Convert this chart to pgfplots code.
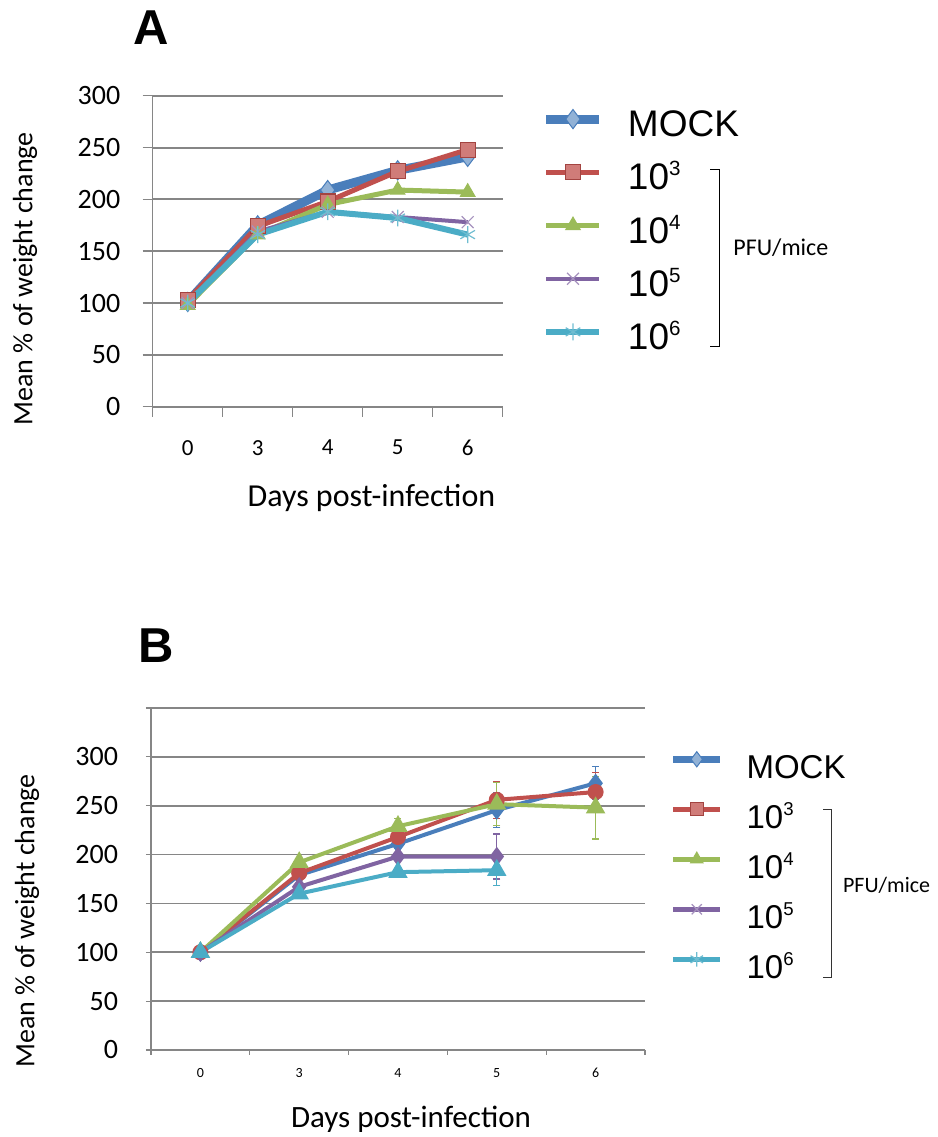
\documentclass[border=0pt]{standalone}
\usepackage{fontspec}
\setmainfont{Carlito}
\newfontfamily\arial{Liberation Sans}
\usepackage{pgfplots}
\pgfplotsset{compat=1.18}
\usepackage{pgfplotstable}
\definecolor{cblue}{RGB}{74,126,187}
\definecolor{cred}{RGB}{192,80,77}
\definecolor{cgreen}{RGB}{155,187,89}
\definecolor{cpurple}{RGB}{128,100,162}
\definecolor{ccyan}{RGB}{75,172,198}
\definecolor{axgray}{RGB}{134,134,134}
\newcommand{\supA}[1]{\raisebox{7pt}{\fontsize{10.3pt}{10.3pt}\selectfont #1}}
\newcommand{\supB}[1]{\raisebox{6.3pt}{\fontsize{9.3pt}{9.3pt}\selectfont #1}}

\pgfplotstableread{
x mock r3 r4 r5 r6
0 101 103 98 100 100
1 175 174 166 169 166
2 209 198 195 188 188
3 228 227 209 183 182
4 241 248 207 178 166
}\dataA

\pgfplotstableread{
x mock emock r3 er3 r4 er4
0 100 0 100 0 100 0
1 179 3 181 4 192 3
2 211 5 218 7 229 8
3 245.5 18 256 19 251.6 22
4 273 17 264 20 248 32
}\dataB

\pgfplotstableread{
x r5 er5 r6 er6
0 100 0 100 0
1 167 3 160 3
2 198 4 182 4
3 198 23 184 16
}\dataBB

\begin{document}
\begin{tikzpicture}[x=1pt,y=1pt]
\path[use as bounding box] (0,0) rectangle (469,568.5);

% ---------------- Panel A ----------------
\begin{axis}[
  at={(76.35pt,365.15pt)}, anchor=south west,
  scale only axis, width=175pt, height=155.5pt,
  xmin=-0.5, xmax=4.5, ymin=0, ymax=300,
  axis x line*=bottom, axis y line*=left,
  axis line style={draw=axgray, line width=0.75pt},
  tick align=outside,
  major tick length=5pt,
  tick style={draw=axgray, line width=0.75pt},
  ytick={0,50,...,300},
  yticklabels={0,50,100,150,200,250,300},
  yticklabel style={font=\fontsize{14}{14}\selectfont, anchor=east, inner sep=0pt, xshift=-11pt},
  xtick={-0.5,0.5,...,4.5},
  xticklabels={},
  extra x ticks={0,1,2,3,4},
  extra x tick labels={0,3,4,5,6},
  extra x tick style={major tick length=0pt, xticklabel style={font=\fontsize{11.5}{11.5}\selectfont, anchor=north, inner sep=0pt, yshift=-16.5pt}},
  ymajorgrids,
  grid style={draw=axgray, line width=1pt},
  xlabel={Days post-infection},
  xlabel style={font=\fontsize{16}{16}\selectfont, at={(axis description cs:0.625,-0.3215)}, anchor=base},
  ylabel={Mean \% of weight change},
  ylabel style={font=\fontsize{14}{14}\selectfont, at={(axis description cs:-0.3649,0.4106)}, anchor=center, rotate=0},
  legend style={at={(axis description cs:1.1123,1.0103)}, anchor=north west, draw=none, fill=none,
    inner sep=0pt, outer sep=0pt, row sep=0pt, column sep=12pt,
    font=\arial\fontsize{18.5}{18.5}\selectfont,
    cells={anchor=west},
    nodes={inner sep=0pt, text height=22.1pt, text depth=4.5pt}},
  legend cell align=left,
  legend image code/.code={\draw[mark repeat=2,mark phase=2,#1] plot coordinates {(0pt,0pt)(13.25pt,0pt)(26.5pt,0pt)};},
]
\addplot[color=cblue, line width=4.5pt, mark=diamond*, mark size=4.8pt,
  mark options={fill=cblue!60!white, draw=cblue, line width=0.5pt}]
  table[x=x,y=mock]{\dataA};
\addlegendentry{MOCK}
\addplot[color=cred, line width=2.5pt, mark=square*, mark size=3.75pt,
  mark options={fill=cred!75!white, draw=cred!85!black, line width=0.6pt}]
  table[x=x,y=r3]{\dataA};
\addlegendentry{10\supA{3}}
\addplot[color=cgreen, line width=2.5pt, mark=triangle*, mark size=4.2pt,
  mark options={fill=cgreen, draw=cgreen, line width=0.5pt}]
  table[x=x,y=r4]{\dataA};
\addlegendentry{10\supA{4}}
\addplot[color=cpurple, line width=2pt, mark=x, mark size=4.2pt,
  mark options={draw=cpurple!70!white, line width=0.6pt}]
  table[x=x,y=r5]{\dataA};
\addlegendentry{10\supA{5}}
\addplot[color=ccyan, line width=3pt, mark=asterisk, mark size=4.2pt,
  mark options={draw=ccyan!80!white, line width=0.6pt}]
  table[x=x,y=r6]{\dataA};
\addlegendentry{10\supA{6}}
\end{axis}

% ---------------- Panel B ----------------
\begin{axis}[
  at={(75.5pt,43.5pt)}, anchor=south west,
  scale only axis, width=247pt, height=171pt,
  xmin=-0.5, xmax=4.5, ymin=0, ymax=350,
  axis x line*=bottom, axis y line*=left,
  axis line style={draw=axgray, line width=0.6pt},
  tick align=outside,
  major tick length=2.5pt,
  tick style={draw=axgray, line width=0.6pt},
  ytick={0,50,...,350},
  yticklabels={0,50,100,150,200,250,300,{}},
  yticklabel style={font=\fontsize{14}{14}\selectfont, anchor=east, inner sep=0pt, xshift=-13.8pt},
  xtick={-0.5,0.5,...,4.5},
  xticklabels={},
  extra x ticks={0,1,2,3,4},
  extra x tick labels={0,3,4,5,6},
  extra x tick style={major tick length=0pt, xticklabel style={font=\fontsize{7}{7}\selectfont, anchor=north, inner sep=0pt, yshift=-9pt}},
  ymajorgrids,
  grid style={draw=axgray, line width=0.8pt},
  xlabel={Days post-infection},
  xlabel style={font=\fontsize{15.5}{15.5}\selectfont, at={(axis description cs:0.5263,-0.226)}, anchor=base},
  ylabel={Mean \% of weight change},
  ylabel style={font=\fontsize{14}{14}\selectfont, at={(axis description cs:-0.251,0.3772)}, anchor=center, rotate=0},
  legend style={at={(axis description cs:1.0506,0.9231)}, anchor=north west, draw=none, fill=none,
    inner sep=0pt, outer sep=0pt, row sep=0pt, column sep=11.5pt,
    font=\arial\fontsize{16.5}{16.5}\selectfont,
    cells={anchor=west},
    nodes={inner sep=0pt, text height=22pt, text depth=3pt}},
  legend cell align=left,
  legend image code/.code={\draw[mark repeat=2,mark phase=2,#1] plot coordinates {(0pt,0pt)(11.65pt,0pt)(23.3pt,0pt)};},
  error bars/y dir=both, error bars/y explicit,
  error bars/error bar style={line width=0.6pt, solid},
  error bars/error mark options={rotate=90, mark size=1.75pt, line width=0.6pt},
]
\addplot[forget plot, color=cblue, line width=2pt, mark=diamond*, mark size=3.2pt,
  mark options={fill=cblue, draw=cblue, solid}]
  table[x=x,y=mock,y error=emock]{\dataB};
\addplot[forget plot, color=cred, line width=2pt, mark=*, mark size=3pt,
  mark options={fill=cred, draw=cred, solid}]
  table[x=x,y=r3,y error=er3]{\dataB};
\addplot[forget plot, color=cgreen, line width=2pt, mark=triangle*, mark size=3.6pt,
  mark options={fill=cgreen, draw=cgreen, solid}]
  table[x=x,y=r4,y error=er4]{\dataB};
\addplot[forget plot, color=cpurple, line width=2pt, mark=diamond*, mark size=3.2pt,
  mark options={fill=cpurple, draw=cpurple, solid}]
  table[x=x,y=r5,y error=er5]{\dataBB};
\addplot[forget plot, color=ccyan, line width=2pt, mark=triangle*, mark size=3.6pt,
  mark options={fill=ccyan, draw=ccyan, solid}]
  table[x=x,y=r6,y error=er6]{\dataBB};
\addlegendimage{color=cblue, line width=3.5pt, mark=diamond*, mark size=3.8pt, mark options={fill=cblue!60!white, draw=cblue, line width=0.5pt}}
\addlegendentry{MOCK}
\addlegendimage{color=cred, line width=2.5pt, mark=square*, mark size=3.2pt, mark options={fill=cred!75!white, draw=cred!85!black, line width=0.5pt}}
\addlegendentry{10\supB{3}}
\addlegendimage{color=cgreen, line width=2.5pt, mark=triangle*, mark size=3.6pt, mark options={fill=cgreen, draw=cgreen, line width=0.5pt}}
\addlegendentry{10\supB{4}}
\addlegendimage{color=cpurple, line width=2.5pt, mark=x, mark size=3.6pt, mark options={draw=cpurple!70!white, line width=0.6pt}}
\addlegendentry{10\supB{5}}
\addlegendimage{color=ccyan, line width=2.5pt, mark=asterisk, mark size=3.6pt, mark options={draw=ccyan!80!white, line width=0.6pt}}
\addlegendentry{10\supB{6}}
\end{axis}

% titles
\node[font=\arial\bfseries\fontsize{24.5}{24.5}\selectfont, inner sep=0pt] at (75.75,554.75) {A};
\node[font=\arial\bfseries\fontsize{24.5}{24.5}\selectfont, inner sep=0pt] at (78,245.5) {B};

% brackets
\draw[line width=0.5pt] (355,483.5) -- (359.5,483.5) -- (359.5,395.15) -- (355,395.15);
\node[font=\fontsize{12}{12}\selectfont, anchor=west, inner sep=0pt] at (366.5,444.5) {PFU/mice};
\draw[line width=0.5pt, draw=black!80] (411.5,163.5) -- (415.85,163.5) -- (415.85,79.5) -- (411.5,79.5);
\node[font=\fontsize{11}{11}\selectfont, anchor=west, inner sep=0pt] at (421.35,126) {PFU/mice};
\end{tikzpicture}
\end{document}
